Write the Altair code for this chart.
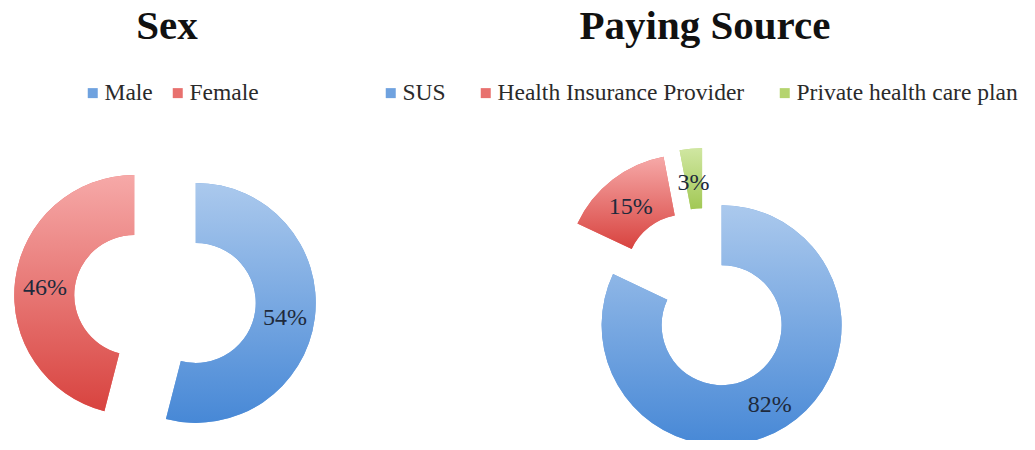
import altair as alt
import pandas as pd

# ---- data ----
sex_labels = ["Male", "Female"]
sex_values = [54, 46]
pay_labels = ["SUS", "Health Insurance Provider", "Private health care plan"]
pay_values = [82, 15, 3]
titles = ["Sex", "Paying Source"]

# ---- style ----
BLUE, RED, GREEN = "#6fa2df", "#e8716e", "#b5d46f"
def grad(top, bottom):
    return {"gradient": "linear", "x1": 0, "y1": 0, "x2": 0, "y2": 1,
            "stops": [{"offset": 0, "color": top}, {"offset": 1, "color": bottom}]}
G_BLUE = grad("#abc9ed", "#4788d6")
G_RED = grad("#f6a9a8", "#d8433f")
G_GREEN = grad("#d0e7a2", "#a2c855")

R_OUT, R_IN, EXPLODE, LABEL_R = 120, 60, 31, 90
SERIF = "Liberation Serif"


def donut(labels, values, colors, grads, cx, cy, legend):
    df = pd.DataFrame({"cat": labels, "val": values, "order": list(range(len(labels)))})
    base = (
        alt.Chart(df)
        .transform_joinaggregate(total="sum(val)")
        .transform_window(cum="sum(val)", sort=[alt.SortField("order")], frame=[None, 0])
        .transform_calculate(start="2*PI*(datum.cum - datum.val)/datum.total")
        .transform_calculate(end="2*PI*datum.cum/datum.total")
        .transform_calculate(mid="(datum.start + datum.end)/2")
        .transform_calculate(px=f"{cx} + {EXPLODE}*sin(datum.mid)")
        .transform_calculate(py=f"{cy} - {EXPLODE}*cos(datum.mid)")
        .transform_calculate(lx=f"datum.px + {LABEL_R}*sin(datum.mid)")
        .transform_calculate(ly=f"datum.py - {LABEL_R}*cos(datum.mid)")
        .transform_calculate(label="datum.val + '%'")
    )
    pos = dict(
        x=alt.X("px:Q", scale=None, axis=None),
        y=alt.Y("py:Q", scale=None, axis=None),
        theta=alt.Theta("start:Q", scale=None, stack=None),
        theta2=alt.Theta2("end:Q"),
    )
    solid = base.mark_arc(radius=R_OUT, innerRadius=R_IN).encode(
        color=alt.Color("cat:N", scale=alt.Scale(domain=labels, range=colors),
                        sort=labels, legend=legend),
        **pos,
    )
    fill = {
        "condition": [{"test": f"datum.cat === '{l}'", "value": g}
                      for l, g in zip(labels[:-1], grads[:-1])],
        "value": grads[-1],
    }
    shaded = base.mark_arc(radius=R_OUT, innerRadius=R_IN).encode(fill=fill, **pos)
    text = base.mark_text(font=SERIF, fontSize=24, color="#1e2a3c", dy=4).encode(
        x=alt.X("lx:Q", scale=None, axis=None),
        y=alt.Y("ly:Q", scale=None, axis=None),
        text="label:N",
    )
    return [solid, shaded, text]


def legend(x, y, pad, size):
    return alt.Legend(
        orient="none", legendX=x, legendY=y, direction="horizontal", title=None,
        symbolType="square", symbolSize=100, symbolStrokeWidth=0,
        labelFont=SERIF, labelFontSize=size, labelColor="#2a2a2a", labelLimit=500,
        labelOffset=0, columnPadding=pad, padding=0,
    )


sex_layers = donut(sex_labels, sex_values, [BLUE, RED], [G_BLUE, G_RED],
                   157, 291, legend(73, 73, 13, 23.5))
pay_layers = donut(pay_labels, pay_values, [BLUE, RED, GREEN], [G_BLUE, G_RED, G_GREEN],
                   697, 291, legend(371, 73, 28, 23.5))

title_df = pd.DataFrame({"t": titles})
t1 = alt.Chart(title_df).transform_filter(alt.datum.t == titles[0]).mark_text(
    font=SERIF, fontSize=41, fontWeight="bold", color="#111", baseline="alphabetic"
).encode(text="t:N", x=alt.value(159), y=alt.value(31))
t2 = alt.Chart(title_df).transform_filter(alt.datum.t == titles[1]).mark_text(
    font=SERIF, fontSize=41, fontWeight="bold", color="#111", baseline="alphabetic"
).encode(text="t:N", x=alt.value(697), y=alt.value(31))

chart = (
    alt.layer(*sex_layers, *pay_layers, t1, t2)
    .resolve_scale(color="independent")
    .properties(width=1019, height=432, padding=0, autosize=alt.AutoSizeParams(type="none"))
    .configure_view(stroke=None)
)

chart.save("out.html", embed_options={"renderer": "svg", "actions": False})
